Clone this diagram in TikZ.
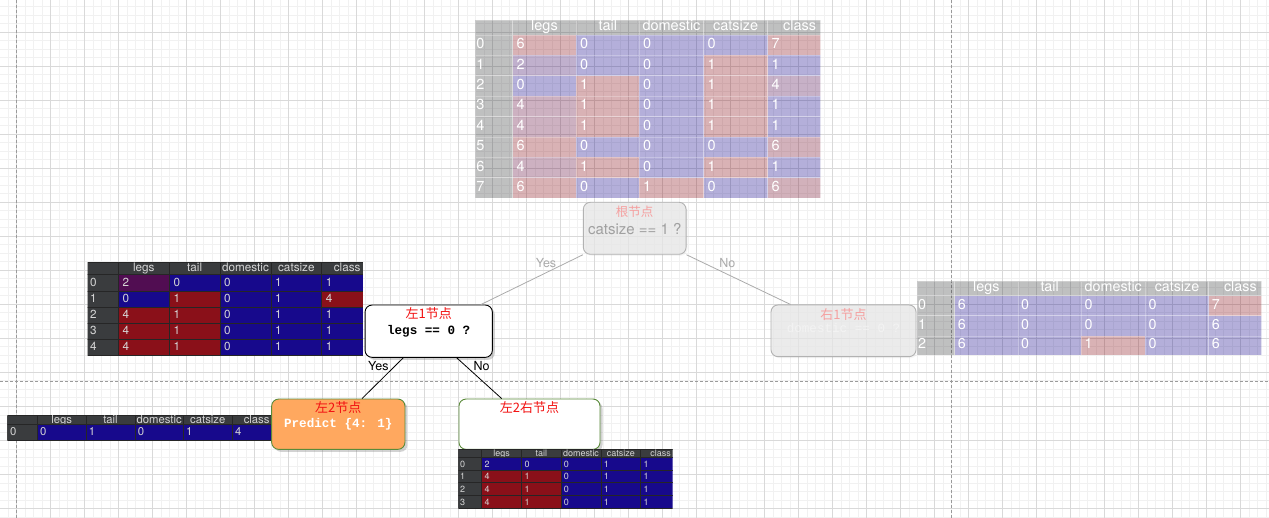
\documentclass[tikz,border=0pt]{standalone}
\usepackage{fontspec}
\setmainfont{TeX Gyre Heros}
\newfontfamily\cjk{Noto Sans CJK SC}
\newfontfamily\mono{Liberation Mono}
\usetikzlibrary{shadows,calc}

\definecolor{tred}{HTML}{8A1019}
\definecolor{tblue}{HTML}{17098C}
\definecolor{tgray}{HTML}{3A3C3E}
\definecolor{tline}{HTML}{262626}
\definecolor{ttext}{HTML}{D6D6D6}
\definecolor{ngreen}{HTML}{5A8A3A}
\definecolor{norange}{HTML}{FFA85F}
\definecolor{nred}{HTML}{F21212}
\definecolor{fred}{HTML}{F5A0A0}
\definecolor{ftext}{HTML}{A0A0A0}
\definecolor{fline}{HTML}{B2B2B2}
\definecolor{ffill}{HTML}{E8E8E8}
\definecolor{fwhite}{HTML}{F3F3F3}
\definecolor{gmaj}{HTML}{D9D9D9}
\definecolor{gmin}{HTML}{F1F1F1}
\definecolor{guidec}{HTML}{9A9A9A}
\definecolor{edgegray}{HTML}{ABABAB}

\tikzset{
 minorline/.style={draw=gmin,line width=0.6pt},
 majorline/.style={draw=gmaj,line width=0.6pt},
 guideline/.style={draw=guidec,line width=0.6pt,dash pattern=on 3pt off 2pt},
 cellbox/.style={draw=tline,line width=0.6pt},
 celltext/.style={inner sep=0pt,text height=.7em,text depth=0pt,text=ttext},
 treenode/.style={rectangle,rounded corners=7pt,inner sep=0pt,line width=0.9pt},
 fadednode/.style={treenode,draw=fline,fill=ffill,fill opacity=0.75,drop shadow={shadow xshift=1.5pt,shadow yshift=-1.5pt,opacity=0.08}},
 darknode/.style={treenode,drop shadow={shadow xshift=2.5pt,shadow yshift=-2.5pt,opacity=0.35}},
 cjklab/.style={inner sep=0pt,font=\cjk\fontsize{13}{15}\selectfont,text height=11.4pt,text depth=1.6pt},
 monolab/.style={inner sep=0pt,font=\mono\bfseries\fontsize{12.6}{15}\selectfont,text height=8pt,text depth=0pt},
 sanslab/.style={inner sep=0pt,font=\fontsize{15}{18}\selectfont,text height=10.8pt,text depth=0pt},
 edgelab/.style={inner sep=0pt,font=\fontsize{12.5}{15}\selectfont,text height=9pt,text depth=0pt},
 grayedge/.style={draw=edgegray,line width=0.8pt},
 blackedge/.style={draw=black,line width=0.8pt},
 fadedtab/.style={cellbox/.style={draw=white,draw opacity=0.25,line width=0.6pt,fill opacity=0.32},
   celltext/.append style={text=white}},
}

% one body row of a table: #1 prefix, #2 row id, #3 top, #4 bottom, #5 column edges, #6 fill/text pairs
\newcommand\tabrow[6]{%
  \foreach \cf/\ct [count=\k from 0] in {#6}{%
    \pgfmathsetmacro\xa{{#5}[\k]}%
    \pgfmathsetmacro\xb{{#5}[\k+1]}%
    \pgfmathsetmacro\xt{\xa+(\k==0 ? \ipad : \cpad)}%
    \path[cellbox,fill=\cf] (\xa,#3) rectangle (\xb,#4);
    \node[celltext,anchor=west] (#1-#2-\k) at (\xt,{(#3+#4)/2}) {\ct};
  }}
% header row: #1 prefix, #2 top, #3 bottom, #4 edges, #5 texts
\newcommand\tabhead[5]{%
  \foreach \ct [count=\k from 0] in {#5}{%
    \pgfmathsetmacro\xa{{#4}[\k]}%
    \pgfmathsetmacro\xb{{#4}[\k+1]}%
    \path[cellbox,fill=tgray] (\xa,#2) rectangle (\xb,#3);
    \node[celltext] (#1-h-\k) at ({(\xa+\xb)/2},{(#2+#3)/2}) {\ct};
  }}

\begin{document}
\begin{tikzpicture}[x=1pt,y=-1pt]
\useasboundingbox (0,0) rectangle (1269,518);
\clip (0,0) rectangle (1269,518);
\fill[white] (0,0) rectangle (1269,518);
% grid
\foreach \x in {-0.7,7.8,...,1270} \draw[minorline] (\x,0) -- (\x,518);
\foreach \y in {6.8,15.3,...,518} \draw[minorline] (0,\y) -- (1269,\y);
\foreach \x in {16.3,50.3,...,1270} \draw[majorline] (\x,0) -- (\x,518);
\foreach \y in {32.3,66.3,...,518} \draw[majorline] (0,\y) -- (1269,\y);
\draw[guideline] (16.7,0) -- (16.7,518);
\draw[guideline] (951.3,0) -- (951.3,518);
\draw[guideline] (0,381) -- (1269,381);

% top table (faded)
\begin{scope}[fadedtab,celltext/.append style={font=\fontsize{14.5}{16}\selectfont}]
\def\cpad{3.6}\def\ipad{1.2}
\clip (475,20) rectangle (820.3,198.2);
\def\E{475,512.7,576.3,639.3,703.7,767.7,831.7}
\tabhead{T}{20}{35}{\E}{{},legs,tail,domestic,catsize,class}
\tabrow{T}{0}{35}{55.4}{\E}{tgray/0,tred/6,tblue/0,tblue/0,tblue/0,tred/7}
\tabrow{T}{1}{55.4}{75.8}{\E}{tgray/1,tred!33!tblue/2,tblue/0,tblue/0,tred/1,tblue/1}
\tabrow{T}{2}{75.8}{96.2}{\E}{tgray/2,tblue/0,tred/1,tblue/0,tred/1,tred!50!tblue/4}
\tabrow{T}{3}{96.2}{116.6}{\E}{tgray/3,tred!67!tblue/4,tred/1,tblue/0,tred/1,tblue/1}
\tabrow{T}{4}{116.6}{137}{\E}{tgray/4,tred!67!tblue/4,tred/1,tblue/0,tred/1,tblue/1}
\tabrow{T}{5}{137}{157.4}{\E}{tgray/5,tred/6,tblue/0,tblue/0,tblue/0,tred!83!tblue/6}
\tabrow{T}{6}{157.4}{177.8}{\E}{tgray/6,tred!67!tblue/4,tred/1,tblue/0,tred/1,tblue/1}
\tabrow{T}{7}{177.8}{198.2}{\E}{tgray/7,tred/6,tblue/0,tred/1,tblue/0,tred!83!tblue/6}
\end{scope}

% right table (faded)
\begin{scope}[fadedtab,celltext/.append style={font=\fontsize{14.3}{16}\selectfont}]
\def\cpad{3}\def\ipad{1}
\clip (917,281) rectangle (1261.3,355);
\def\E{917,954.7,1018,1081.3,1145.3,1208.7,1272}
\tabhead{R}{281}{295.7}{\E}{{},legs,tail,domestic,catsize,class}
\tabrow{R}{0}{295.7}{315.8}{\E}{tgray/0,tblue/6,tblue/0,tblue/0,tblue/0,tred/7}
\tabrow{R}{1}{315.8}{335.9}{\E}{tgray/1,tblue/6,tblue/0,tblue/0,tblue/0,tblue/6}
\tabrow{R}{2}{335.9}{355}{\E}{tgray/2,tblue/6,tblue/0,tred/1,tblue/0,tblue/6}
\end{scope}

% left table
\begin{scope}[celltext/.append style={font=\fontsize{11.7}{13}\selectfont}]
\def\cpad{4}\def\ipad{2.3}
\clip (87.7,262) rectangle (362.8,355.5);
\def\E{87.7,118.3,169.3,220,271,321.7,372.7}
\tabhead{L}{262}{274.7}{\E}{{},legs,tail,domestic,catsize,class}
\tabrow{L}{0}{274.7}{290.9}{\E}{tgray/0,tred!50!tblue/2,tblue/0,tblue/0,tblue/1,tblue/1}
\tabrow{L}{1}{290.9}{307.1}{\E}{tgray/1,tblue/0,tred/1,tblue/0,tblue/1,tred/4}
\tabrow{L}{2}{307.1}{323.3}{\E}{tgray/2,tred/4,tred/1,tblue/0,tblue/1,tblue/1}
\tabrow{L}{3}{323.3}{339.5}{\E}{tgray/3,tred/4,tred/1,tblue/0,tblue/1,tblue/1}
\tabrow{L}{4}{339.5}{355.5}{\E}{tgray/4,tred/4,tred/1,tblue/0,tblue/1,tblue/1}
\end{scope}

% bottom-left table
\begin{scope}[celltext/.append style={font=\fontsize{11.3}{13}\selectfont}]
\def\cpad{2.7}\def\ipad{2.7}
\clip (7.3,415.7) rectangle (272,440);
\def\E{7.3,37.3,86,135,183.3,232.3,281}
\tabhead{B}{415.7}{424.3}{\E}{{},legs,tail,domestic,catsize,class}
\tabrow{B}{0}{424.3}{440}{\E}{tgray/0,tblue/0,tblue/1,tblue/0,tblue/1,tblue/4}
\end{scope}

% tree nodes
\node[fadednode,minimum width=102.7pt,minimum height=52pt] (root) at (634.7,228.3) {};
\node[cjklab,text=fred,font=\cjk\fontsize{12.5}{14}\selectfont] (rootA) at ($(root.north)+(0,10)$) {根节点};
\node[sanslab,text=ftext] (rootB) at ($(root.north)+(0,27)$) {catsize == 1 ?};

\node[fadednode,minimum width=145pt,minimum height=51.7pt] (right1) at (843.5,330.8) {};
\node[cjklab,text=fred] (right1A) at ($(right1.north)+(0,10)$) {右1节点};
\node[monolab,text=fwhite,font=\mono\fontsize{12.6}{15}\selectfont] (right1B) at ($(right1.north)+(0,24.3)$) {domestic == 0 ?};

\node[darknode,draw=black,fill=white,minimum width=127.3pt,minimum height=52.3pt] (left1) at (428.7,331.2) {};
\node[cjklab,text=nred] (left1A) at ($(left1.north)+(0,9.3)$) {左1节点};
\node[monolab] (left1B) at ($(left1.north)+(0,26)$) {legs == 0 ?};

\node[darknode,draw=ngreen,fill=norange,minimum width=133.3pt,minimum height=50.3pt] (left2) at (338.3,424.2) {};
\node[cjklab,text=nred] (left2A) at ($(left2.north)+(0,9.3)$) {左2节点};
\node[monolab,text=white] (left2B) at ($(left2.north)+(0,25.3)$) {Predict \{4: 1\}};

\node[darknode,draw=ngreen,fill=white,minimum width=141pt,minimum height=50.3pt] (left2r) at (529.5,424.2) {};
\node[cjklab,text=nred] (left2rA) at ($(left2r.north)+(0,9.3)$) {左2右节点};

% connectors
\draw[grayedge] (root.south west) -- ([xshift=-12pt]left1.north east);
\draw[grayedge] (root.south east) -- ([xshift=20pt]right1.north west);
\draw[blackedge] ([xshift=-25.4pt]left1.south) -- ([xshift=23.7pt]left2.north);
\draw[blackedge] ([xshift=28pt]left1.south) -- ([xshift=-27.8pt]left2r.north);
\node[edgelab,text=edgegray] (yesA) at (546,263) {Yes};
\node[edgelab,text=edgegray] (noA) at (727.3,263) {No};
\node[edgelab] (yesB) at (378.3,366) {Yes};
\node[edgelab] (noB) at (481.7,366) {No};

% bottom-middle table
\begin{scope}[celltext/.append style={font=\fontsize{9}{10}\selectfont}]
\def\cpad{2.6}\def\ipad{1.7}
\clip (458.3,449.3) rectangle (672.7,508.3);
\def\E{458.3,481.7,521.7,561,601,640.7,680.7}
\tabhead{M}{449.3}{457.3}{\E}{{},legs,tail,domestic,catsize,class}
\tabrow{M}{0}{457.3}{470}{\E}{tgray/0,tblue/2,tblue/0,tblue/0,tblue/1,tblue/1}
\tabrow{M}{1}{470}{482.7}{\E}{tgray/1,tred/4,tred/1,tblue/0,tblue/1,tblue/1}
\tabrow{M}{2}{482.7}{495.4}{\E}{tgray/2,tred/4,tred/1,tblue/0,tblue/1,tblue/1}
\tabrow{M}{3}{495.4}{508.3}{\E}{tgray/3,tred/4,tred/1,tblue/0,tblue/1,tblue/1}
\end{scope}
\end{tikzpicture}
\end{document}
